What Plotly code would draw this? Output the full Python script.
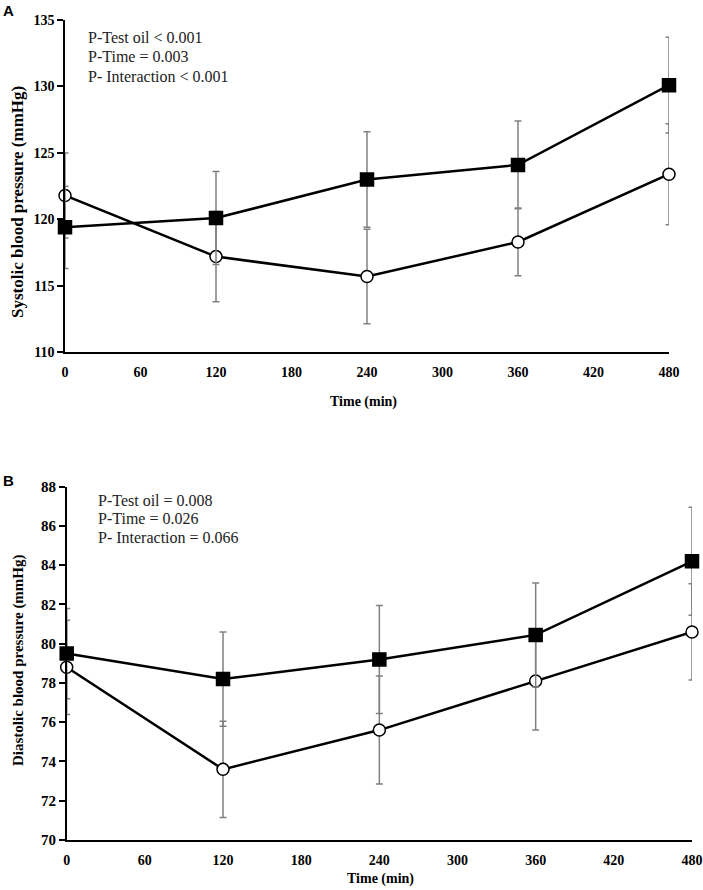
import plotly.graph_objects as go

W, H = 703, 890

time_min = [0, 120, 240, 360, 480]
x_ticks = [0, 60, 120, 180, 240, 300, 360, 420, 480]

# Panel A: systolic blood pressure (mmHg)
sys_square = [119.4, 120.1, 123.0, 124.1, 130.1]
sys_square_err = [3.1, 3.5, 3.6, 3.3, 3.6]
sys_circle = [121.8, 117.2, 115.7, 118.3, 123.4]
sys_circle_err = [3.2, 3.4, 3.55, 2.55, 3.8]

# Panel B: diastolic blood pressure (mmHg)
dia_square = [79.5, 78.2, 79.2, 80.45, 84.2]
dia_square_err = [2.3, 2.4, 2.75, 2.65, 2.75]
dia_circle = [78.8, 73.6, 75.6, 78.1, 80.6]
dia_circle_err = [2.4, 2.45, 2.75, 2.5, 2.45]

stats_a = ["P-Test oil < 0.001", "P-Time = 0.003", "P- Interaction < 0.001"]
stats_b = ["P-Test oil = 0.008", "P-Time = 0.026", "P- Interaction = 0.066"]

ERR_COLOR = "#808080"


def px(v):
    return v / W


def py(v):
    return 1 - v / H


def add_series(fig, y, err, symbol, fill, xa, ya):
    fig.add_trace(go.Scatter(
        x=time_min, y=y, mode="lines+markers",
        xaxis=xa, yaxis=ya,
        line=dict(color="black", width=2.5),
        marker=dict(symbol=symbol, size=13 if symbol == "square" else 12,
                    color=fill, line=dict(color="black", width=1.5)),
        error_y=dict(type="data", array=err, visible=True,
                     color=ERR_COLOR, thickness=1.5, width=3.5),
        showlegend=False, cliponaxis=False,
    ))


fig = go.Figure()
add_series(fig, sys_circle, sys_circle_err, "circle", "white", "x", "y")
add_series(fig, sys_square, sys_square_err, "square", "black", "x", "y")
add_series(fig, dia_circle, dia_circle_err, "circle", "white", "x2", "y2")
add_series(fig, dia_square, dia_square_err, "square", "black", "x2", "y2")


def tfont(size):
    return dict(family="Liberation Serif", size=size, color="black", weight="bold")


xa_common = dict(
    tickvals=x_ticks, showline=True, linecolor="black", linewidth=1.5,
    showgrid=False, zeroline=False, ticks="outside", ticklen=6,
    tickcolor="rgba(0,0,0,0)", automargin=False, ticklabeloverflow="allow",
)
ya_common = dict(
    showline=True, linecolor="black", linewidth=1.5, showgrid=False,
    zeroline=False, ticks="outside", ticklen=6, tickwidth=1.5,
    tickcolor="black", automargin=False, ticklabeloverflow="allow",
)

fig.update_layout(
    width=W, height=H,
    margin=dict(l=0, r=0, t=0, b=0, autoexpand=False),
    paper_bgcolor="white", plot_bgcolor="white",
    xaxis=dict(xa_common, range=[0, 480], domain=[px(65), px(669)],
               anchor="y", tickfont=tfont(14)),
    yaxis=dict(ya_common, range=[110, 135], dtick=5,
               domain=[py(352.3), py(20)], anchor="x", tickfont=tfont(14)),
    xaxis2=dict(xa_common, range=[0, 480], domain=[px(66.7), px(692)],
                anchor="y2", tickfont=tfont(14)),
    yaxis2=dict(ya_common, range=[70, 88], dtick=2,
                domain=[py(840), py(486.7)], anchor="x2", tickfont=tfont(15)),
)


def label(text, x, y, font, angle=0):
    fig.add_annotation(text=text, xref="paper", yref="paper", x=px(x), y=py(y),
                       xanchor="center", yanchor="middle", textangle=angle,
                       showarrow=False, font=font)


# axis titles
label("Time (min)", 363, 402, tfont(14))
label("Time (min)", 380, 879, tfont(14))
label("Systolic blood pressure (mmHg)", 18, 202, tfont(17), -90)
label("Diastolic blood pressure (mmHg)", 18, 660, tfont(15), -90)

ann_font = dict(family="Liberation Serif", size=16, color="#222222")
for i, t in enumerate(stats_a):
    fig.add_annotation(text=t, xref="paper", yref="paper",
                       x=px(86), y=py(37.5 + i * 19.3), xanchor="left",
                       yanchor="middle", showarrow=False, font=ann_font)
for i, t in enumerate(stats_b):
    fig.add_annotation(text=t, xref="paper", yref="paper",
                       x=px(96), y=py(500 + i * 18.5), xanchor="left",
                       yanchor="middle", showarrow=False, font=ann_font)

letter_font = dict(family="Liberation Sans", size=15, color="black", weight="bold")
fig.add_annotation(text="A", xref="paper", yref="paper", x=px(1), y=py(10),
                   xanchor="left", yanchor="middle", showarrow=False, font=letter_font)
fig.add_annotation(text="B", xref="paper", yref="paper", x=px(1), y=py(480),
                   xanchor="left", yanchor="middle", showarrow=False, font=letter_font)

fig.write_html("out.html")
